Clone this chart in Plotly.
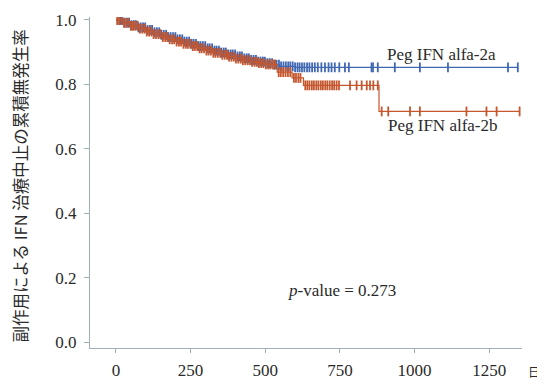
import plotly.graph_objects as go

# Kaplan-Meier step points (day, cumulative event-free rate)
blue_times = [0, 25, 50, 75, 100, 125, 150, 175, 200, 225, 250, 275, 300, 325, 350,
              375, 400, 425, 450, 475, 500, 525, 548, 600]
blue_surv = [1.000, 0.992, 0.984, 0.977, 0.969, 0.962, 0.954, 0.947, 0.940, 0.933,
             0.926, 0.919, 0.912, 0.905, 0.899, 0.893, 0.887, 0.881, 0.876, 0.871,
             0.866, 0.861, 0.856, 0.853]
blue_censor = [6, 14, 21, 29, 37, 44, 52, 60, 67, 75, 83, 91, 98, 106, 114, 121, 129,
               137, 145, 152, 160, 168, 175, 183, 191, 199, 206, 214, 222, 229, 237,
               245, 253, 260, 268, 276, 283, 291, 299, 307, 314, 322, 330, 337, 345,
               353, 361, 368, 376, 384, 391, 399, 407, 415, 422, 430, 438, 445, 453,
               461, 469, 476, 484, 492, 499, 507, 515, 523, 530, 538, 546, 553, 561,
               569, 577, 584, 592, 600, 608, 615, 623, 631, 640, 648, 657, 666, 676,
               688, 700, 712, 722, 733, 748, 767, 780, 856, 861, 877, 934, 1018, 1112,
               1313, 1346]

red_times = [0, 25, 50, 75, 100, 125, 150, 175, 200, 225, 250, 275, 300, 325, 350,
             375, 400, 425, 450, 475, 500, 540, 590, 628, 881]
red_surv = [1.000, 0.991, 0.982, 0.973, 0.964, 0.956, 0.947, 0.940, 0.933, 0.926,
            0.919, 0.912, 0.905, 0.898, 0.892, 0.886, 0.880, 0.875, 0.870, 0.866,
            0.862, 0.838, 0.820, 0.797, 0.716]
red_censor = [4, 11, 19, 27, 34, 42, 50, 57, 65, 73, 80, 88, 96, 103, 111, 119, 126,
              134, 142, 149, 157, 165, 172, 180, 188, 195, 203, 211, 218, 226, 234,
              241, 249, 257, 264, 272, 280, 287, 295, 303, 310, 318, 326, 333, 341,
              349, 356, 364, 372, 379, 387, 395, 402, 410, 418, 425, 433, 441, 448,
              456, 464, 471, 479, 487, 494, 502, 510, 517, 525, 533, 545, 552, 560,
              568, 576, 584, 596, 603, 611, 618, 634, 641, 648, 656, 663, 671, 678,
              686, 693, 701, 708, 716, 724, 731, 739, 747, 784, 806, 823, 840, 851,
              862, 877, 890, 912, 985, 1018, 1174, 1241, 1275, 1352]

x_ticks = [0, 250, 500, 750, 1000, 1250]
y_ticks = [0.0, 0.2, 0.4, 0.6, 0.8, 1.0]
unit_tick = [1400]
unit_label = ["日"]

BLUE = "#4068b2"
RED = "#c5562d"
SERIF = "Liberation Serif, Times New Roman, serif"
CJK = "Noto Sans CJK JP, sans-serif"
TXT = "#2a2a2a"

X_MIN, X_MAX = -87, 1360
PX_PER_DAY = 432 / (X_MAX - X_MIN)


def step_at(times, surv, t):
    v = surv[0]
    for ti, si in zip(times, surv):
        if ti <= t:
            v = si
    return v


fig = go.Figure()
for times, surv, cens, col in [(blue_times, blue_surv, blue_censor, BLUE),
                               (red_times, red_surv, red_censor, RED)]:
    end = cens[-1]
    fig.add_trace(go.Scatter(
        x=times + [end], y=surv + [surv[-1]], mode="lines",
        line=dict(color=col, width=1.2, shape="hv"), hoverinfo="skip",
        showlegend=False))
    fig.add_trace(go.Scatter(
        x=cens, y=[step_at(times, surv, t) for t in cens], mode="markers",
        marker=dict(symbol="line-ns", size=7, line=dict(color=col, width=1.8)),
        showlegend=False))
# empty trace so the unit ("日") axis exists
fig.add_trace(go.Scatter(x=[], y=[], xaxis="x2", showlegend=False))

axis_col = "#9fb0b6"
fig.update_layout(
    xaxis=dict(domain=[0, 432 / 455], range=[X_MIN, X_MAX], tickvals=x_ticks,
               ticks="outside", ticklen=4, tickcolor=axis_col, showline=True,
               linecolor=axis_col, linewidth=1, showgrid=False, zeroline=False,
               ticklabelstandoff=3, automargin=False,
               tickfont=dict(family=SERIF, size=17, color=TXT)),
    xaxis2=dict(domain=[0, 1], anchor="y", side="bottom",
                range=[X_MIN, X_MIN + 455 / PX_PER_DAY], tickvals=unit_tick,
                ticktext=unit_label, ticks="", showline=False, showgrid=False,
                zeroline=False, ticklabelstandoff=16, automargin=False,
                tickfont=dict(family=CJK, size=12, color=TXT)),
    yaxis=dict(range=[-0.0186, 1.0093], tickvals=y_ticks, tickformat=".1f",
               ticks="outside", ticklen=5, tickcolor=axis_col, showline=True,
               linecolor=axis_col, linewidth=1, showgrid=False, zeroline=False,
               ticklabelstandoff=4, automargin=False,
               tickfont=dict(family=SERIF, size=17, color=TXT)),
)

# page body has an 8px default margin, so the figure is 8px smaller and offset
fig.update_layout(
    width=537, height=372, margin=dict(l=82, r=0, t=9, b=32, autoexpand=False),
    paper_bgcolor="white", plot_bgcolor="rgba(0,0,0,0)",
    annotations=[
        dict(x=1092, y=0.894, xref="x", yref="y", text="Peg IFN alfa-2a",
             showarrow=False, font=dict(family=SERIF, size=17, color=TXT)),
        dict(x=1095, y=0.671, xref="x", yref="y", text="Peg IFN alfa-2b",
             showarrow=False, font=dict(family=SERIF, size=17, color=TXT)),
        dict(x=757, y=0.161, xref="x", yref="y", text="<i>p</i>-value = 0.273",
             showarrow=False, font=dict(family=SERIF, size=17, color=TXT)),
        dict(x=-0.184, y=0.489, xref="paper", yref="paper",
             text="副作用による IFN 治療中止の累積無発生率", textangle=-90,
             showarrow=False, font=dict(family=CJK, size=16.5, color=TXT)),
    ],
)

fig.write_html("out.html")
